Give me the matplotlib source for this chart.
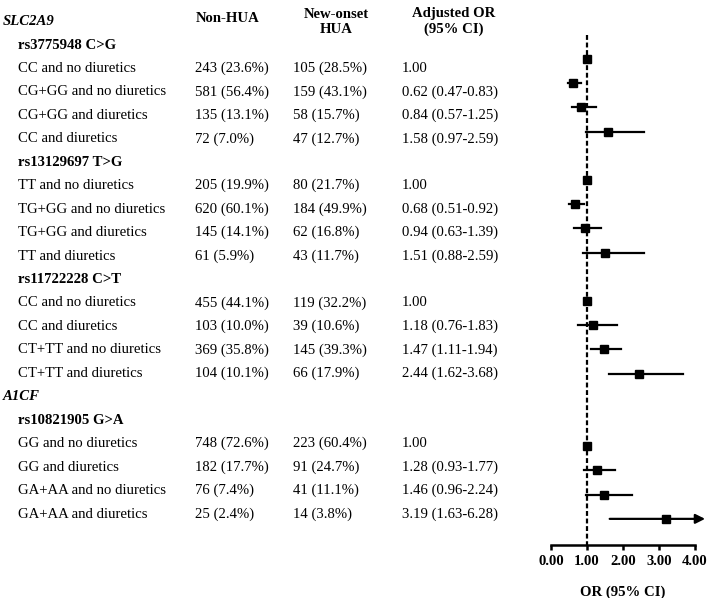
import matplotlib
matplotlib.use('Agg')
import matplotlib.pyplot as plt

plt.rcParams['font.family'] = ['Liberation Serif', 'DejaVu Serif']
plt.rcParams['font.size'] = 10.6

# data
genes = ['SLC2A9', 'A1CF']
snps = ['rs3775948 C>G', 'rs13129697 T>G', 'rs11722228 C>T', 'rs10821905 G>A']
snp_gene = [0, 0, 0, 1]
subgroups = [
    ['CC and no diuretics', 'CG+GG and no diuretics', 'CG+GG and diuretics', 'CC and diuretics'],
    ['TT and no diuretics', 'TG+GG and no diuretics', 'TG+GG and diuretics', 'TT and diuretics'],
    ['CC and no diuretics', 'CC and diuretics', 'CT+TT and no diuretics', 'CT+TT and diuretics'],
    ['GG and no diuretics', 'GG and diuretics', 'GA+AA and no diuretics', 'GA+AA and diuretics'],
]
non_hua_n = [243, 581, 135, 72, 205, 620, 145, 61, 455, 103, 369, 104, 748, 182, 76, 25]
non_hua_pct = [23.6, 56.4, 13.1, 7.0, 19.9, 60.1, 14.1, 5.9, 44.1, 10.0, 35.8, 10.1, 72.6, 17.7, 7.4, 2.4]
new_hua_n = [105, 159, 58, 47, 80, 184, 62, 43, 119, 39, 145, 66, 223, 91, 41, 14]
new_hua_pct = [28.5, 43.1, 15.7, 12.7, 21.7, 49.9, 16.8, 11.7, 32.2, 10.6, 39.3, 17.9, 60.4, 24.7, 11.1, 3.8]
or_val = [1.00, 0.62, 0.84, 1.58, 1.00, 0.68, 0.94, 1.51, 1.00, 1.18, 1.47, 2.44, 1.00, 1.28, 1.46, 3.19]
ci_lo = [None, 0.47, 0.57, 0.97, None, 0.51, 0.63, 0.88, None, 0.76, 1.11, 1.62, None, 0.93, 0.96, 1.63]
ci_hi = [None, 0.83, 1.25, 2.59, None, 0.92, 1.39, 2.59, None, 1.83, 1.94, 3.68, None, 1.77, 2.24, 6.28]

x_ticks = [0, 1, 2, 3, 4]
x_max = 4.0
arrow_tip = 4.28  # where the clipped CI arrow ends

# build row layout
rows = []   # (kind, label)
sub_rows = []
cur_gene = None
for i, snp in enumerate(snps):
    if snp_gene[i] != cur_gene:
        cur_gene = snp_gene[i]
        rows.append(('gene', genes[cur_gene]))
    rows.append(('snp', snp))
    for lab in subgroups[i]:
        sub_rows.append(len(rows))
        rows.append(('sub', lab))

fig = plt.figure(figsize=(7.09, 5.98), dpi=100)

# text table, x in pixel-ish units, y in row units
tax = fig.add_axes([0, 0, 1, 1])
tax.set_xlim(0, 709)
tax.set_ylim(24.58, -0.92)
tax.axis('off')

col_label_gene = 3
col_label = 18
col_non = 195
col_new = 293
col_or = 402

for r, (kind, lab) in enumerate(rows):
    if kind == 'gene':
        tax.text(col_label_gene, r, lab, fontweight='bold', fontstyle='italic', va='center')
    elif kind == 'snp':
        tax.text(col_label, r, lab, fontweight='bold', va='center')
    else:
        tax.text(col_label, r, lab, va='center')

for k, r in enumerate(sub_rows):
    tax.text(col_non, r, f'{non_hua_n[k]} ({non_hua_pct[k]:.1f}%)', va='center')
    tax.text(col_new, r, f'{new_hua_n[k]} ({new_hua_pct[k]:.1f}%)', va='center')
    if ci_lo[k] is None:
        s = f'{or_val[k]:.2f}'
    else:
        s = f'{or_val[k]:.2f} ({ci_lo[k]:.2f}-{ci_hi[k]:.2f})'
    tax.text(col_or, r, s, va='center')

tax.text(228, -0.15, 'Non-HUA', fontweight='bold', ha='center', va='center')
tax.text(336, 0, 'New-onset\nHUA', fontweight='bold', ha='center', va='center', linespacing=1.2)
tax.text(454, 0, 'Adjusted OR\n(95% CI)', fontweight='bold', ha='center', va='center', linespacing=1.2)

# forest plot
ax = fig.add_axes([551 / 709, 53 / 598, 144 / 709, 545 / 598])
ax.set_xlim(0, x_max)
ax.set_ylim(22.08, -0.44)

ax.vlines(1.0, rows.index(('snp', snps[0])), 22.08, colors='black',
          linestyles=(0, (2.2, 1.2)), linewidth=1.6, zorder=1)

for k, r in enumerate(sub_rows):
    if ci_lo[k] is not None:
        if ci_hi[k] > x_max:
            ax.annotate('', xy=(arrow_tip, r), xytext=(ci_lo[k], r),
                        arrowprops=dict(arrowstyle='-|>', color='black', lw=1.6,
                                        mutation_scale=14, shrinkA=0, shrinkB=0),
                        annotation_clip=False)
        else:
            ax.plot([ci_lo[k], ci_hi[k]], [r, r], color='black', lw=1.6, zorder=2)
    ax.plot(or_val[k], r, marker='s', color='black', markersize=6, zorder=3,
            clip_on=False)

for side in ['top', 'right', 'left']:
    ax.spines[side].set_visible(False)
ax.spines['bottom'].set_linewidth(1.8)
ax.set_yticks([])
ax.set_xticks(x_ticks)
ax.set_xticklabels([f'{t:.2f}' for t in x_ticks], fontweight='bold')
ax.tick_params(axis='x', direction='out', length=3.5, width=1.8, pad=4)
ax.set_xlabel('OR (95% CI)', fontweight='bold', labelpad=12)
ax.patch.set_alpha(0)

fig.savefig('out.png', dpi=100)
